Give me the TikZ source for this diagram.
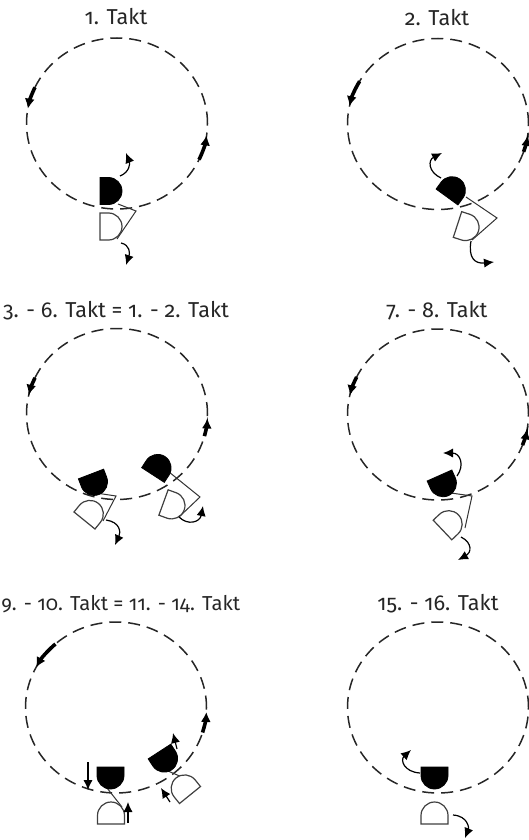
\documentclass[tikz,border=0pt]{standalone}
\usepackage{fontspec}
\setmainfont{Fira Sans}[Numbers=OldStyle]
\usetikzlibrary{arrows.meta}
\tikzset{
  track/.style={
    black!85,
    line width=0.75pt,
    dash pattern=on 6pt off 3.5pt
  },
  turn arrow/.style={
    line width=1.8pt,
    -{Latex[length=5pt,width=5pt]}
  },
  move arrow/.style={
    line width=0.6pt,
    -{Latex[length=5pt,width=4.6pt]}
  },
  arm/.style={
    line width=0.5pt,
    black!80
  },
  leader/.style={
    fill=black,
    draw=black,
    line width=0.4pt
  },
  follower/.style={
    fill=white,
    draw=black!75,
    line width=0.6pt
  },
  takt/.style={
    anchor=base,
    text=black!85,
    font=\fontsize{10.8}{13}\selectfont
  },
  dancer/.pic={
    \path[#1] (-13.5,0) -- (-13.5,8.5)
      arc[start angle=180, end angle=0, radius=13.5]
      -- (13.5,0) -- cycle;
  }
}

\begin{document}
\begin{tikzpicture}[x=0.5pt,y=0.5pt]
    \useasboundingbox (0,0) rectangle (529,-840);

    % ---------- Tanzkreise ----------
    \coordinate (c1) at (117,-123.5);
    \coordinate (c2) at (438,-124);
    \coordinate (c3) at (117,-414);
    \coordinate (c4) at (438,-414.5);
    \coordinate (c5) at (116,-707.5);
    \coordinate (c6) at (438,-707.5);

    \foreach \c in {c1,c2,c3,c4,c5,c6}{
      \draw[track] (\c) ellipse[x radius=90.5, y radius=85.5];
    }

    % Drehrichtung auf dem Kreis
    \foreach \c/\a/\b in {
      c1/155/170, c1/-25/-8,
      c2/150/168, c2/-19/-8,
      c3/155/167, c3/-15/-3,
      c4/154/167, c4/-21/-10,
      c5/132/152, c5/-17/-3
    }{
      \draw[turn arrow]
        (\c) ++(\a:90.5 and 85.5)
        arc[start angle=\a, end angle=\b, x radius=90.5, y radius=85.5];
    }

    % ---------- Titel ----------
    \node[takt] (t1) at (116,-25) {1. Takt};
    \node[takt] (t2) at (437,-26) {2. Takt};
    \node[takt] (t3) at (116,-317) {3. - 6. Takt = 1. - 2. Takt};
    \node[takt] (t4) at (437,-317) {7. - 8. Takt};
    \node[takt, anchor=base west, inner xsep=0pt, font=\fontsize{10.1}{12}\selectfont]
      (t5) at (1,-610) {9. - 10. Takt = 11. - 14. Takt};
    \node[takt] (t6) at (438,-610) {15. - 16. Takt};

    % ---------- 1. Takt ----------
    \draw[arm] (118,-204) -- (136,-211) -- (117,-239);
    \pic[rotate=-90] at (100,-191) {dancer=leader};
    \pic[rotate=-90] at (100,-226.5) {dancer=follower};
    \draw[move arrow]
      (120,-176) .. controls (130,-172) and (130,-163) .. (126,-153);
    \draw[move arrow]
      (121,-243) .. controls (130,-245) and (130,-253) .. (126,-265);

    % ---------- 2. Takt ----------
    \draw[arm] (466,-197) -- (497,-218) -- (472,-240);
    \pic[rotate=-36] at (447,-197) {dancer=leader};
    \pic[rotate=-108] at (457.5,-224.5) {dancer=follower};
    \draw[move arrow]
      (441,-178) .. controls (428,-172) and (428,-160) .. (442,-153);
    \draw[move arrow]
      (471,-241) .. controls (468,-258) and (475,-264) .. (494,-262);

    % ---------- 3. - 6. Takt ----------
    % linkes Paar
    \draw[arm] (96,-493) -- (116,-496) -- (103,-521);
    \pic[rotate=-159] at (91,-474) {dancer=leader};
    \pic[rotate=-39] at (84.5,-520.5) {dancer=follower};
    \draw[move arrow]
      (106,-520) .. controls (120,-522) and (121,-532) .. (115,-545);

    % rechtes Paar
    \draw[arm] (169,-472) -- (200,-497) -- (179,-517);
    \pic[rotate=-33] at (153,-475) {dancer=leader};
    \pic[rotate=-110] at (163.5,-502.5) {dancer=follower};
    \draw[move arrow]
      (179,-517) .. controls (188,-526) and (200,-522) .. (203,-506);

    % ---------- 7. - 8. Takt ----------
    \draw[arm] (451,-493) -- (472,-496) -- (465,-528);
    \pic[rotate=-156] at (439.5,-475.5) {dancer=leader};
    \pic[rotate=-46.5] at (442.5,-530) {dancer=follower};
    \draw[move arrow]
      (457,-476) .. controls (465,-465) and (460,-453) .. (443,-453);
    \draw[move arrow]
      (461,-537) .. controls (473,-543) and (471,-553) .. (458,-560);

    % ---------- 9. - 10. Takt ----------
    % Paar unten
    \draw[arm] (107,-788) -- (122,-807);
    \pic[rotate=180] at (110.5,-767) {dancer=leader};
    \pic at (111,-824) {dancer=follower};
    \draw[move arrow] (88,-762) -- (88,-790);
    \draw[move arrow] (128,-823) -- (128,-802);

    % Paar rechts
    \draw[arm] (168,-771) -- (182,-777);
    \pic[rotate=-147] at (159.5,-751.5) {dancer=leader};
    \pic[rotate=39] at (190,-795) {dancer=follower};
    \draw[move arrow] (177,-749) -- (173,-733);
    \draw[move arrow] (170,-802) -- (161,-788);

    % ---------- 15. - 16. Takt ----------
    \pic[rotate=180] at (434.5,-767) {dancer=leader};
    \pic at (434.5,-824) {dancer=follower};
    \draw[move arrow]
      (420,-773) .. controls (404,-772) and (400,-760) .. (411,-750);
    \draw[move arrow]
      (453,-815) .. controls (468,-816) and (469,-828) .. (465,-838);

\end{tikzpicture}
\end{document}
